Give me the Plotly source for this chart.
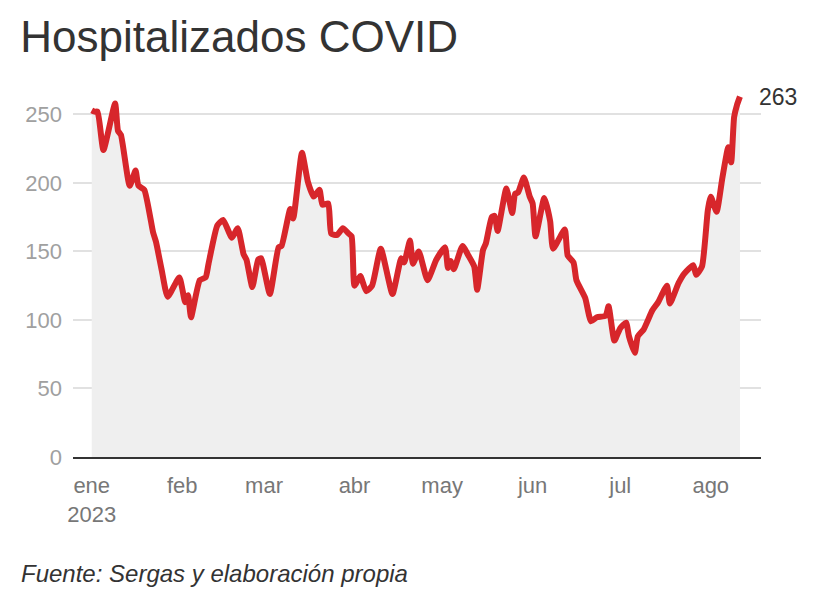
import plotly.graph_objects as go

# hospitalised COVID patients, 2023
fechas = [
    "2023-01-01", "2023-01-02", "2023-01-03", "2023-01-05", "2023-01-09", "2023-01-10",
    "2023-01-11", "2023-01-14", "2023-01-16", "2023-01-17", "2023-01-19", "2023-01-22",
    "2023-01-23", "2023-01-25", "2023-01-27", "2023-01-31", "2023-02-02", "2023-02-03",
    "2023-02-04", "2023-02-07", "2023-02-09", "2023-02-10", "2023-02-13", "2023-02-15",
    "2023-02-18", "2023-02-20", "2023-02-22", "2023-02-23", "2023-02-25", "2023-02-27",
    "2023-02-28", "2023-03-03", "2023-03-06", "2023-03-07", "2023-03-10", "2023-03-11",
    "2023-03-14", "2023-03-16", "2023-03-18", "2023-03-20", "2023-03-21", "2023-03-23",
    "2023-03-24", "2023-03-26", "2023-03-28", "2023-03-30", "2023-03-31", "2023-04-01",
    "2023-04-03", "2023-04-05", "2023-04-07", "2023-04-10", "2023-04-14", "2023-04-17",
    "2023-04-18", "2023-04-20", "2023-04-21", "2023-04-23", "2023-04-26", "2023-04-29",
    "2023-05-02", "2023-05-03", "2023-05-04", "2023-05-05", "2023-05-08", "2023-05-10",
    "2023-05-12", "2023-05-13", "2023-05-15", "2023-05-16", "2023-05-18", "2023-05-19",
    "2023-05-20", "2023-05-23", "2023-05-25", "2023-05-26", "2023-05-27", "2023-05-29",
    "2023-05-31", "2023-06-01", "2023-06-02", "2023-06-05", "2023-06-07", "2023-06-08",
    "2023-06-12", "2023-06-13", "2023-06-15", "2023-06-16", "2023-06-19", "2023-06-21",
    "2023-06-23", "2023-06-26", "2023-06-27", "2023-06-29", "2023-07-01", "2023-07-03",
    "2023-07-04", "2023-07-06", "2023-07-07", "2023-07-09", "2023-07-12", "2023-07-14",
    "2023-07-17", "2023-07-18", "2023-07-21", "2023-07-23", "2023-07-26", "2023-07-27",
    "2023-07-29", "2023-07-31", "2023-08-01", "2023-08-03", "2023-08-05", "2023-08-07",
    "2023-08-08", "2023-08-09", "2023-08-10", "2023-08-11",
]
hospitalizados = [
    253, 252, 252, 224, 258, 238,
    235, 198, 209, 198, 195, 164,
    157, 136, 117, 131, 113, 118,
    102, 129, 131, 141, 169, 173,
    160, 167, 148, 144, 124, 144,
    145, 119, 153, 154, 181, 174,
    222, 201, 190, 195, 184, 185,
    163, 162, 167, 163, 161, 125,
    132, 121, 125, 152, 119, 145,
    142, 158, 141, 150, 129, 144,
    153, 138, 143, 137, 154, 147,
    139, 122, 151, 156, 175, 176,
    165, 196, 178, 192, 193, 204,
    190, 185, 161, 189, 172, 152,
    166, 147, 142, 129, 116, 99,
    102, 103, 110, 85, 94, 98,
    88, 76, 88, 93, 107, 113,
    125, 112, 127, 134, 140, 133,
    139, 180, 190, 179, 204, 226,
    215, 248, 257, 263,
]

meses = ["2023-01-01", "2023-02-01", "2023-03-01", "2023-04-01",
         "2023-05-01", "2023-06-01", "2023-07-01", "2023-08-01"]
etiquetas_meses = ["ene<br>2023", "feb", "mar", "abr", "may", "jun", "jul", "ago"]
ticks_y = [0, 50, 100, 150, 200, 250]

FONT = "Liberation Sans, Arial, Helvetica, sans-serif"
RED = "#d7262b"

fig = go.Figure()
fig.add_trace(go.Scatter(
    x=fechas, y=hospitalizados, mode="lines",
    line=dict(color=RED, width=6, shape="spline", smoothing=0.5),
    fill="tozeroy", fillcolor="#efefef",
    hoverinfo="x+y", showlegend=False,
))

# value label at the last point
fig.add_annotation(
    x=fechas[-1], y=hospitalizados[-1], text=str(hospitalizados[-1]),
    showarrow=False, xanchor="left", yanchor="middle", xshift=17,
    font=dict(family=FONT, size=23, color="#333333"),
)

fig.add_annotation(
    text="<i>Fuente: Sergas y elaboración propia</i>",
    xref="paper", yref="paper", x=-0.079, y=-0.316,
    xanchor="left", yanchor="middle", showarrow=False,
    font=dict(family=FONT, size=24, color="#333333"),
)

# page body has an 8px margin, so the figure is a bit smaller than the window
fig.update_layout(
    width=832, height=589,
    margin=dict(l=65, r=79, t=79, b=140),
    paper_bgcolor="white", plot_bgcolor="white",
    font=dict(family=FONT),
    title=dict(
        text="Hospitalizados COVID", x=0.0148, xanchor="left",
        xref="container", yref="container", y=0.951, yanchor="middle",
        font=dict(family=FONT, size=44, color="#333333"),
    ),
)
fig.update_xaxes(
    range=["2022-12-25 14:00", "2023-08-18 05:00"],
    tickvals=meses, ticktext=etiquetas_meses,
    showgrid=False, showline=True, linecolor="#333333", linewidth=2,
    ticks="", ticklabelstandoff=8,
    tickfont=dict(family=FONT, size=22, color="#777777"),
    zeroline=False,
)
fig.update_yaxes(
    range=[0, 270], tickvals=ticks_y,
    showgrid=True, gridcolor="#e1e1e1", gridwidth=1.5,
    zeroline=False, ticks="", ticklabelstandoff=10,
    tickfont=dict(family=FONT, size=22, color="#a0a0a0"),
)

fig.write_html("out.html")
